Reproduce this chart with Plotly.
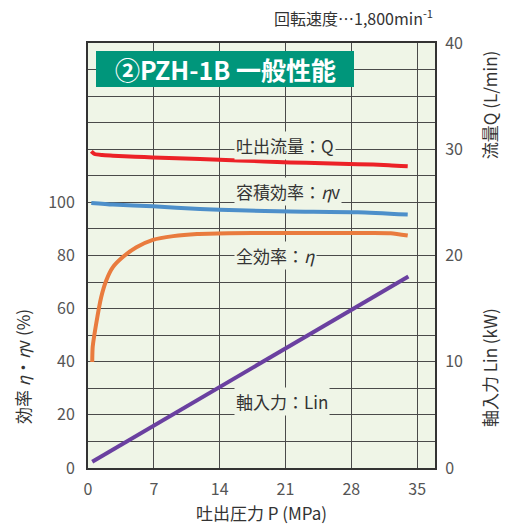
import plotly.graph_objects as go

# ---- data ----
pressure_q = [0.35, 0.7, 1.5, 2.65, 5.0, 6.9, 11.9, 16.0, 21.5, 25.0, 28.7, 32.0, 34.0]
flow_q = [29.8, 29.55, 29.45, 29.4, 29.3, 29.23, 29.08, 28.95, 28.76, 28.68, 28.6, 28.5, 28.4]

pressure_v = [0.35, 2.65, 6.9, 11.9, 16.0, 21.5, 28.7, 34.0]
vol_eff = [99.8, 99.2, 98.5, 97.5, 97.0, 96.6, 96.3, 95.4]

pressure_e = [0.45, 0.5, 0.87, 1.4, 1.94, 2.65, 3.7, 5.15, 6.9, 9.06, 11.6, 15.0, 20.0, 25.0, 30.0, 32.2, 34.0]
total_eff = [39.9, 45.6, 54.3, 64.3, 70.6, 75.6, 79.4, 83.1, 85.9, 87.3, 88.1, 88.4, 88.5, 88.5, 88.5, 88.4, 87.5]

pressure_l = [0.45, 34.07]
shaft_in = [0.59, 18.03]

x_ticks = [0, 7, 14, 21, 28, 35]
left_ticks = [0, 20, 40, 60, 80, 100]
right_ticks = [0, 10, 20, 30, 40]

FONT = "Noto Sans CJK JP"
PLOT_BG = "#eff5e7"
GRID = "#4a4a4a"
TICK_C = "#555555"
TXT_C = "#333333"

fig = go.Figure()
fig.add_trace(go.Scatter(x=pressure_q, y=flow_q, yaxis="y2", mode="lines",
                         line=dict(color="#ec2127", width=4, shape="spline", smoothing=0.6),
                         hoverinfo="skip"))
fig.add_trace(go.Scatter(x=pressure_v, y=vol_eff, mode="lines",
                         line=dict(color="#4d8fca", width=4, shape="spline", smoothing=0.6),
                         hoverinfo="skip"))
fig.add_trace(go.Scatter(x=pressure_e, y=total_eff, mode="lines",
                         line=dict(color="#e97b3e", width=4, shape="spline", smoothing=0.6),
                         hoverinfo="skip"))
fig.add_trace(go.Scatter(x=pressure_l, y=shaft_in, yaxis="y2", mode="lines",
                         line=dict(color="#6a40a0", width=4),
                         hoverinfo="skip"))

labels = [("吐出流量：Q", 121.3), ("容積効率：<i>η</i>v", 104.0), ("全効率：<i>η</i>", 80.0), ("軸入力：Lin", 24.9)]
for txt, yv in labels:
    fig.add_annotation(x=15.5, y=yv, xref="x", yref="y", text=txt, showarrow=False,
                       xanchor="left", yanchor="middle", bgcolor=PLOT_BG, borderpad=1,
                       font=dict(family=FONT, size=17, color=TXT_C))

# title box
fig.add_shape(type="rect", xref="paper", yref="paper", x0=(96 - 88) / 347, x1=(354 - 88) / 347,
              y0=(468 - 86.7) / 425.3, y1=(468 - 50.7) / 425.3,
              fillcolor="#00967b", line=dict(width=0), layer="above")
fig.add_annotation(x=((96 + 354) / 2 - 88) / 347, y=(468 - 68.7) / 425.3, xref="paper", yref="paper",
                   text="<b>②PZH-1B 一般性能</b>", showarrow=False, xanchor="center", yanchor="middle",
                   font=dict(family=FONT, size=25, color="white"))

# top-right note
fig.add_annotation(x=(435 - 88) / 347, y=(468 - 17) / 425.3, xref="paper", yref="paper",
                   text="回転速度…1,800min<sup>-1</sup>", showarrow=False, xanchor="right", yanchor="middle",
                   font=dict(family=FONT, size=16, color=TXT_C))

# axis titles
fig.add_annotation(x=(22 - 88) / 347, y=(468 - 367) / 425.3, xref="paper", yref="paper",
                   text="効率 <i>η</i>・<i>η</i>v (%)", textangle=-90, showarrow=False,
                   xanchor="center", yanchor="middle",
                   font=dict(family=FONT, size=17, color=TXT_C))
fig.add_annotation(x=(489 - 88) / 347, y=(468 - 105) / 425.3, xref="paper", yref="paper",
                   text="流量Q (L/min)", textangle=-90, showarrow=False,
                   xanchor="center", yanchor="middle",
                   font=dict(family=FONT, size=17, color=TXT_C))
fig.add_annotation(x=(489 - 88) / 347, y=(468 - 368) / 425.3, xref="paper", yref="paper",
                   text="軸入力 Lin (kW)", textangle=-90, showarrow=False,
                   xanchor="center", yanchor="middle",
                   font=dict(family=FONT, size=17, color=TXT_C))

fig.update_layout(
    width=505, height=527,
    margin=dict(l=88, r=70, t=43, b=59, autoexpand=False),
    paper_bgcolor="white", plot_bgcolor=PLOT_BG,
    showlegend=False,
    font=dict(family=FONT),
    xaxis=dict(range=[0, 36.9], tickvals=x_ticks, showgrid=True, gridcolor=GRID, gridwidth=1,
               zeroline=False, showline=True, linecolor=TXT_C, linewidth=2, mirror=True,
               ticks="outside", ticklen=6, tickcolor="rgba(0,0,0,0)", automargin=False,
               tickfont=dict(family=FONT, size=16, color=TICK_C),
               title=dict(text="吐出圧力 P (MPa)", standoff=8,
                          font=dict(family=FONT, size=17, color=TXT_C))),
    yaxis=dict(range=[0, 160], tickvals=left_ticks, showgrid=True,
               gridcolor=GRID, gridwidth=1, zeroline=False, showline=True, linecolor=TXT_C,
               linewidth=2, mirror=True, ticks="outside", ticklen=8, tickcolor="rgba(0,0,0,0)",
               automargin=False,
               minor=dict(dtick=10, tick0=0, showgrid=True, gridcolor=GRID, gridwidth=1, ticklen=0),
               tickfont=dict(family=FONT, size=16, color=TICK_C)),
    yaxis2=dict(range=[0, 40], tickvals=right_ticks, overlaying="y", side="right", showgrid=False,
                zeroline=False, showline=False, ticks="outside", ticklen=6, automargin=False,
                tickcolor="rgba(0,0,0,0)", tickfont=dict(family=FONT, size=16, color=TICK_C)),
)

fig.write_html("out.html", config={"displayModeBar": False},
               post_script="document.body.style.margin='0';")
